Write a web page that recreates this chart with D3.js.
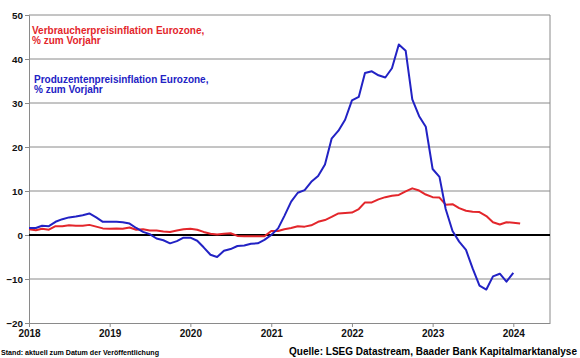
<!DOCTYPE html>
<html>
<head>
<meta charset="utf-8">
<script src="https://cdn.jsdelivr.net/npm/d3@7"></script>
<style>
  body { margin: 0; background: #fff; }
  svg { display: block; font-family: "Liberation Sans", Arial, sans-serif; }
</style>
</head>
<body>
<svg></svg>
<script>
// Eurozone consumer vs producer price inflation, % yoy, monthly from Jan 2018
const width = 580;
const height = 358;

const startMonth = new Date(2018, 0, 1);
const yearTicks = [2018, 2019, 2020, 2021, 2022, 2023, 2024];
const yTicks = [-20, -10, 0, 10, 20, 30, 40, 50];

// HICP, % yoy (Jan 2018 - Feb 2024)
const hicp = [
  1.3, 1.1, 1.4, 1.2, 2.0, 2.0, 2.2, 2.1, 2.1, 2.3, 1.9, 1.5,
  1.4, 1.5, 1.4, 1.7, 1.2, 1.3, 1.0, 1.0, 0.8, 0.7, 1.0, 1.3,
  1.4, 1.2, 0.7, 0.3, 0.1, 0.3, 0.4, -0.2, -0.3, -0.3, -0.3, -0.3,
  0.9, 0.9, 1.3, 1.6, 2.0, 1.9, 2.2, 3.0, 3.4, 4.1, 4.9, 5.0,
  5.1, 5.9, 7.4, 7.4, 8.1, 8.6, 8.9, 9.1, 9.9, 10.6, 10.1, 9.2,
  8.6, 8.5, 6.9, 7.0, 6.1, 5.5, 5.3, 5.2, 4.3, 2.9, 2.4, 2.9,
  2.8, 2.6
];

// PPI, % yoy (Jan 2018 - Jan 2024)
const ppi = [
  1.6, 1.6, 2.1, 2.0, 3.0, 3.6, 4.0, 4.2, 4.5, 4.9, 4.0, 3.0,
  3.0, 3.0, 2.9, 2.6, 1.6, 0.7, 0.2, -0.8, -1.2, -1.9, -1.4, -0.6,
  -0.6, -1.3, -2.8, -4.5, -5.0, -3.6, -3.2, -2.5, -2.4, -2.0, -1.9, -1.1,
  0.0, 1.5, 4.3, 7.6, 9.6, 10.2, 12.1, 13.4, 16.0, 21.9, 23.7, 26.2,
  30.6, 31.4, 36.8, 37.2, 36.3, 35.8, 37.9, 43.3, 41.9, 30.8, 27.0, 24.6,
  15.0, 13.2, 5.9, 0.9, -1.5, -3.4, -7.6, -11.5, -12.4, -9.4, -8.8, -10.6,
  -8.6
];

const red = "#e3262b";
const blue = "#2222c4";
const grid = "#8a8a8a";

const plotLeft = 29, plotRight = 550, plotTop = 15, plotBottom = 323;

const months = d3.timeMonth.range(startMonth, new Date(2024, 2, 1));

const xScale = d3.scaleTime()
  .domain([startMonth, new Date(2024, 5, 15)])
  .range([plotLeft, plotRight]);

const yScale = d3.scaleLinear()
  .domain([-20, 50])
  .range([plotBottom, plotTop]);

const svg = d3.select("svg")
  .attr("width", width)
  .attr("height", height);

// horizontal gridlines
svg.append("g")
  .selectAll("line")
  .data(yTicks.filter(d => d !== 0 && d !== -20))
  .join("line")
    .attr("x1", plotLeft)
    .attr("x2", plotRight)
    .attr("y1", d => yScale(d))
    .attr("y2", d => yScale(d))
    .attr("stroke", grid)
    .attr("stroke-width", 1);

// right frame
svg.append("line")
  .attr("x1", plotRight).attr("x2", plotRight)
  .attr("y1", plotTop).attr("y2", plotBottom)
  .attr("stroke", grid);

const yAxis = d3.axisLeft(yScale)
  .tickValues(yTicks)
  .tickSize(4)
  .tickPadding(2)
  .tickFormat(d3.format("d"));

const gy = svg.append("g")
  .attr("transform", `translate(${plotLeft},0)`)
  .call(yAxis);

const xAxis = d3.axisBottom(xScale)
  .tickValues(yearTicks.map(y => new Date(y, 0, 1)))
  .tickSize(4)
  .tickSizeOuter(0)
  .tickPadding(3)
  .tickFormat(d3.timeFormat("%Y"));

const gx = svg.append("g")
  .attr("transform", `translate(0,${plotBottom})`)
  .call(xAxis);

[gx, gy].forEach(g => {
  g.select(".domain").attr("stroke", grid);
  g.selectAll(".tick line").attr("stroke", grid);
  g.selectAll("text")
    .attr("fill", "#111")
    .style("font-weight", "bold");
});
gy.selectAll("text").style("font-size", "9.8px").attr("dy", "0.35em");
gx.selectAll("text").style("font-size", "10px");

// zero line
svg.append("line")
  .attr("x1", plotLeft).attr("x2", plotRight)
  .attr("y1", yScale(0)).attr("y2", yScale(0))
  .attr("stroke", "#000")
  .attr("stroke-width", 1.8);

const line = d3.line()
  .x((d, i) => xScale(months[i]))
  .y(d => yScale(d));

svg.append("path")
  .datum(hicp)
  .attr("fill", "none")
  .attr("stroke", red)
  .attr("stroke-width", 2)
  .attr("stroke-linejoin", "round")
  .attr("d", line);

svg.append("path")
  .datum(ppi)
  .attr("fill", "none")
  .attr("stroke", blue)
  .attr("stroke-width", 2)
  .attr("stroke-linejoin", "round")
  .attr("d", line);

// legend labels
const legend = [
  { lines: ["Verbraucherpreisinflation Eurozone,", "% zum Vorjahr"], color: red, x: 32, y: 33.5 },
  { lines: ["Produzentenpreisinflation Eurozone,", "% zum Vorjahr"], color: blue, x: 34, y: 83 }
];

legend.forEach(l => {
  l.lines.forEach((t, i) => {
    svg.append("text")
      .attr("x", l.x)
      .attr("y", l.y + i * 10)
      .attr("fill", l.color)
      .style("font-size", "10px")
      .style("font-weight", "bold")
      .text(t);
  });
});

// footer
svg.append("text")
  .attr("x", 1)
  .attr("y", 355)
  .style("font-size", "7px")
  .style("font-weight", "bold")
  .attr("textLength", 158)
  .attr("lengthAdjust", "spacingAndGlyphs")
  .text("Stand: aktuell zum Datum der Veröffentlichung");

svg.append("text")
  .attr("x", 577)
  .attr("y", 355)
  .style("text-anchor", "end")
  .style("font-size", "10px")
  .style("font-weight", "bold")
  .text("Quelle: LSEG Datastream, Baader Bank Kapitalmarktanalyse");
</script>
</body>
</html>
